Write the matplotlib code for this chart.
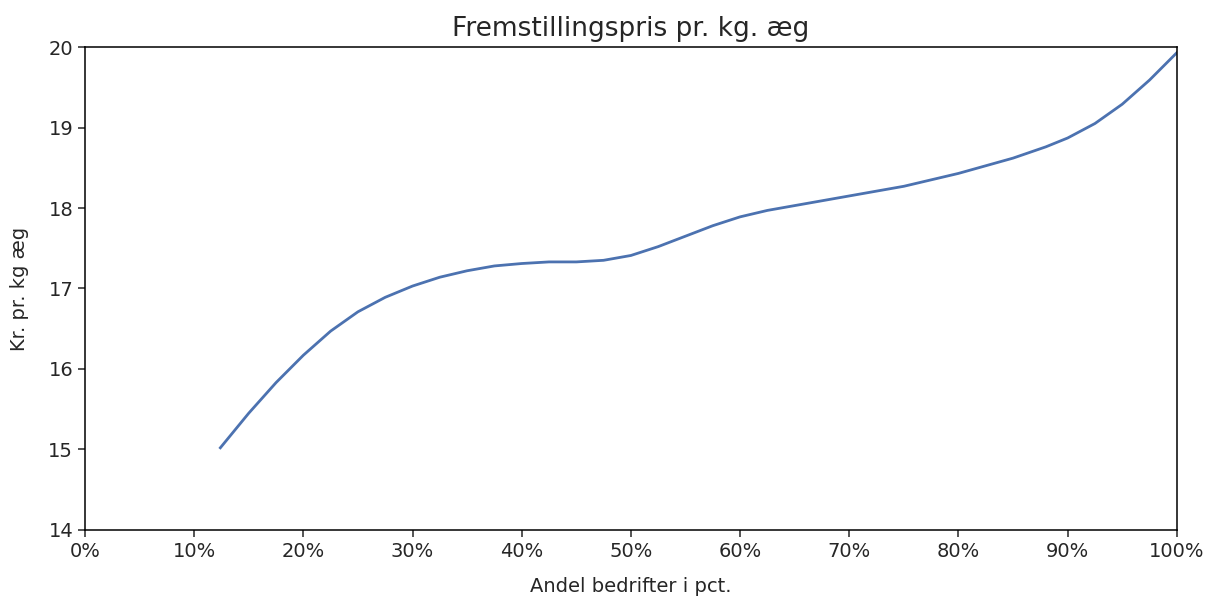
import numpy as np
import matplotlib.pyplot as plt
from matplotlib.ticker import PercentFormatter

andel = [12.4, 15, 17.5, 20, 22.5, 25, 27.5, 30, 32.5, 35, 37.5, 40, 42.5, 45, 47.5,
         50, 52.5, 55, 57.5, 60, 62.5, 65, 67.5, 70, 75, 80, 85, 88, 90, 92.5, 95, 97.5, 100]
pris = [15.02, 15.45, 15.83, 16.17, 16.47, 16.71, 16.89, 17.03, 17.14, 17.22, 17.28,
        17.31, 17.33, 17.33, 17.35, 17.41, 17.52, 17.65, 17.78, 17.89, 17.97, 18.03,
        18.09, 18.15, 18.27, 18.43, 18.62, 18.76, 18.87, 19.05, 19.29, 19.59, 19.93]

fig = plt.figure(figsize=(12.07, 5.96), dpi=100)
ax = fig.add_axes([0.0704, 0.111, 0.9046, 0.81])
ax.plot(andel, pris, color="#4C72B0", lw=2)
ax.set_xlim(0, 100)
ax.set_ylim(14, 20)
ax.set_xticks(np.arange(0, 101, 10))
ax.xaxis.set_major_formatter(PercentFormatter(decimals=0))
ax.tick_params(labelsize=14, length=5, width=1.1, colors="#262626", labelcolor="#262626")
for s in ax.spines.values():
    s.set_linewidth(1.1)
ax.set_title("Fremstillingspris pr. kg. æg", fontsize=19, color="#262626", pad=8)
ax.set_xlabel("Andel bedrifter i pct.", fontsize=14, labelpad=12, color="#262626")
ax.set_ylabel("Kr. pr. kg æg", fontsize=14, labelpad=14, color="#262626")
fig.savefig("out.png")
